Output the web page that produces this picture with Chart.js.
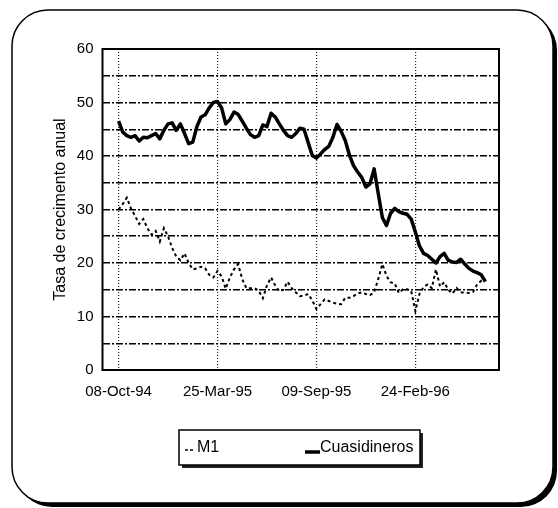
<!DOCTYPE html>
<html><head><meta charset="utf-8">
<script src="https://cdn.jsdelivr.net/npm/chart.js@4"></script>
<style>html,body{margin:0;padding:0;background:#fff}#wrap{width:558px;height:508px}</style>
</head><body><div id="wrap"><canvas id="c" width="558" height="508"></canvas></div>
<script>
const seriesNames = ['M1', 'Cuasidineros'];
const tickPositions = [0, 24, 48, 72];
const tickLabels = ['08-Oct-94', '25-Mar-95', '09-Sep-95', '24-Feb-96'];
const yTitle = 'Tasa de crecimento anual';

const m1 = [30.0,31.0,32.2,30.2,28.8,27.3,28.2,26.5,25.3,26.0,24.0,26.5,25.0,22.8,21.2,20.5,21.8,20.0,18.8,19.0,
19.3,19.0,17.8,17.3,18.5,17.5,15.2,17.3,18.8,19.8,17.0,15.3,15.3,15.3,14.8,13.4,15.8,17.3,15.8,14.7,
15.0,16.5,15.3,14.5,13.8,13.9,14.2,13.0,11.4,12.3,13.2,12.9,12.6,12.4,12.3,13.5,13.5,13.8,14.3,14.5,
14.2,14.0,14.5,17.0,19.8,17.6,16.4,16.2,14.4,15.1,15.1,14.8,11.0,14.2,15.5,16.0,15.3,18.8,15.6,16.4,
15.0,14.3,15.3,14.5,14.5,14.4,14.6,16.0,16.7,17.0];

const cuasi = [46.5,44.5,43.8,43.5,43.8,42.8,43.5,43.4,43.8,44.2,43.2,44.8,46.0,46.2,44.8,46.0,44.2,42.3,42.6,45.5,
47.3,47.7,49.0,50.0,50.2,49.0,46.0,46.8,48.2,47.8,46.5,45.2,44.0,43.5,43.8,45.8,45.5,48.0,47.3,46.0,
44.8,43.8,43.5,44.2,45.2,45.0,42.5,40.1,39.6,40.4,41.2,41.8,43.5,45.9,44.6,42.9,40.2,38.2,37.0,36.0,
34.2,34.8,37.6,33.0,28.5,27.0,29.3,30.2,29.6,29.3,29.1,28.2,25.8,23.2,21.8,21.4,20.7,20.0,21.2,21.8,
20.5,20.2,20.1,20.7,19.8,19.0,18.5,18.2,17.8,16.5];

const FONT = '"Liberation Sans", Arial, sans-serif';

function rr(ctx, x, y, w, h, r) {
  ctx.beginPath();
  ctx.moveTo(x + r, y);
  ctx.lineTo(x + w - r, y);
  ctx.arcTo(x + w, y, x + w, y + r, r);
  ctx.lineTo(x + w, y + h - r);
  ctx.arcTo(x + w, y + h, x + w - r, y + h, r);
  ctx.lineTo(x + r, y + h);
  ctx.arcTo(x, y + h, x, y + h - r, r);
  ctx.lineTo(x, y + r);
  ctx.arcTo(x, y, x + r, y, r);
  ctx.closePath();
}

const framePlugin = {
  id: 'frame',
  beforeDraw(chart) {
    const ctx = chart.ctx;
    ctx.save();
    ctx.fillStyle = '#fff';
    ctx.fillRect(0, 0, chart.width, chart.height);
    ctx.fillStyle = '#000';
    rr(ctx, 16, 14, 541, 493, 36);
    ctx.fill();
    ctx.fillStyle = '#fff';
    rr(ctx, 12, 10, 541, 493, 36);
    ctx.fill();
    ctx.lineWidth = 1.5;
    ctx.strokeStyle = '#000';
    ctx.stroke();
    ctx.restore();
  },
  afterDraw(chart) {
    const ctx = chart.ctx;
    const a = chart.chartArea;
    ctx.save();
    ctx.strokeStyle = '#000';
    ctx.lineWidth = 2;
    ctx.strokeRect(a.left, a.top, a.right - a.left, a.bottom - a.top);
    // legend box
    const bx = 179, by = 430, bw = 241, bh = 35;
    ctx.fillStyle = '#222';
    ctx.fillRect(bx + 3, by + 3, bw, bh);
    ctx.fillStyle = '#fff';
    ctx.fillRect(bx, by, bw, bh);
    ctx.lineWidth = 1.5;
    ctx.strokeStyle = '#000';
    ctx.strokeRect(bx, by, bw, bh);
    const ds = chart.data.datasets;
    ctx.font = '16px ' + FONT;
    ctx.fillStyle = '#000';
    ctx.textBaseline = 'middle';
    // M1 sample
    ctx.lineWidth = 1.5;
    ctx.setLineDash([3, 2]);
    ctx.beginPath(); ctx.moveTo(185, 450); ctx.lineTo(193, 450); ctx.stroke();
    ctx.setLineDash([]);
    ctx.fillText(ds[0].label, 197, 448);
    // Cuasi sample
    ctx.lineWidth = 3.5;
    ctx.beginPath(); ctx.moveTo(305, 452); ctx.lineTo(320, 452); ctx.stroke();
    ctx.fillText(ds[1].label, 320, 448);
    ctx.restore();
  }
};

new Chart(document.getElementById('c'), {
  type: 'line',
  data: {
    datasets: [
      { label: seriesNames[0], data: m1.map((v, i) => ({ x: i, y: v })), borderColor: '#000', borderWidth: 2,
        borderDash: [3, 3], pointRadius: 0, fill: false, tension: 0 },
      { label: seriesNames[1], data: cuasi.map((v, i) => ({ x: i, y: v })), borderColor: '#000', borderWidth: 3.5,
        pointRadius: 0, fill: false, tension: 0, borderJoinStyle: 'round' }
    ]
  },
  options: {
    responsive: false,
    animation: false,
    devicePixelRatio: 1,
    layout: { padding: { left: 47, right: 59, top: 49, bottom: 0 } },
    plugins: { legend: { display: false }, tooltip: { enabled: false } },
    scales: {
      x: {
        type: 'linear', min: -3.9, max: 92.3,
        afterBuildTicks(axis) { axis.ticks = tickPositions.map(v => ({ value: v })); },
        afterFit(axis) { axis.height = 138; },
        ticks: {
          autoSkip: false, maxRotation: 0, padding: 13, color: '#000',
          font: { family: FONT, size: 15 },
          callback: (v) => { const k = tickPositions.indexOf(v); return k >= 0 ? tickLabels[k] : ''; }
        },
        grid: { color: '#222', lineWidth: 1.2, drawTicks: false },
        border: { display: false, dash: [1, 2] }
      },
      y: {
        min: 0, max: 60,
        afterFit(axis) { axis.width = 55.5; },
        ticks: {
          stepSize: 5, padding: 9, color: '#000',
          font: { family: FONT, size: 15 },
          callback: (v) => (v % 10 === 0 ? v : '')
        },
        grid: { color: '#000', lineWidth: 1.5, drawTicks: false },
        border: { display: false, dash: [7, 2, 2, 2] },
        title: { display: true, text: yTitle, color: '#000', font: { family: FONT, size: 16 }, padding: { top: 4, bottom: 4 } }
      }
    }
  },
  plugins: [framePlugin]
});
</script>
</body></html>
